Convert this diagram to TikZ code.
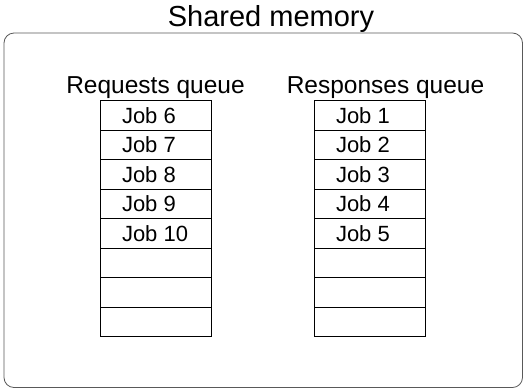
\documentclass[tikz,border=0pt]{standalone}
\usepackage{fontspec}
\setmainfont{Liberation Sans}
\usetikzlibrary{positioning}

\begin{document}
\begin{tikzpicture}[
  x=1pt,y=-1pt,
  memory/.style={draw,thick,gray!70!black,rounded corners=10pt},
  cell/.style={rectangle,draw,thick,minimum height=29.5pt,inner ysep=0pt,
               inner xsep=22pt,font=\fontsize{22}{24}\selectfont},
  qlabel/.style={inner sep=2pt,font=\fontsize{24.5}{26}\selectfont},
  title/.style={font=\fontsize{29}{31}\selectfont}
]
  \useasboundingbox (0,0) rectangle (524,389);

  % ---------- memoria compartida ----------
  \draw[memory] (4,33) rectangle (522.5,387.5);
  \node[title] (mem) at (271,18.5) {Shared memory};

  % ---------- colas ----------
  \foreach \i/\lab in {1/Job 6,2/Job 7,3/Job 8,4/Job 9,5/Job 10,6/,7/,8/}
    \node[cell] (req\i) at (155.5,{100.7+29.5*(\i-0.5)}) {\makebox[67pt][l]{\lab}};
  \foreach \i/\lab in {1/Job 1,2/Job 2,3/Job 3,4/Job 4,5/Job 5,6/,7/,8/}
    \node[cell] (resp\i) at (369.5,{100.7+29.5*(\i-0.5)}) {\makebox[67pt][l]{\lab}};

  \node[qlabel,above=0pt of req1]             (reqlab)  {Requests queue};
  \node[qlabel,above=0pt of resp1,xshift=16pt] (resplab) {Responses queue};
\end{tikzpicture}
\end{document}
